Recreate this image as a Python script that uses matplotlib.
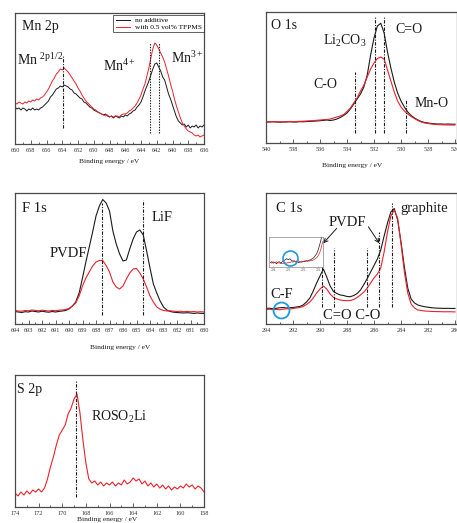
import numpy as np
import matplotlib
matplotlib.use("Agg")
import matplotlib.pyplot as plt
from matplotlib.ticker import MultipleLocator, FormatStrFormatter

W, H = 457, 523

plt.rcParams["font.family"] = ["Liberation Serif", "DejaVu Serif"]
plt.rcParams["mathtext.fontset"] = "custom"
plt.rcParams["mathtext.rm"] = "Liberation Serif"
plt.rcParams["mathtext.it"] = "Liberation Serif:italic"

RED = "#e8232b"
BLACK = "#1a1a1a"
FRAME = "#4a4a4a"
BLUE = "#1f9bd8"

# ---- Mn 2p (660 -> 636 eV, 0.25 eV step) ----
mn_energy = np.linspace(660, 636, 97)
mn_black = [37, 35, 36, 34, 36, 35, 33, 35, 34, 36, 34, 35, 34, 36, 37, 39,
            41, 43, 47, 49, 52, 55, 56, 58, 57, 59, 58, 57, 55, 54, 51, 50,
            48, 46, 45, 42, 41, 39, 37, 36, 34, 33, 32, 31, 30, 29, 30, 28,
            27, 28, 26, 28, 27, 26, 28, 27, 29, 28, 30, 31, 33, 34, 37, 39,
            42, 47, 53, 58, 63, 69, 75, 80, 81, 77, 73, 67, 64, 57, 50, 45,
            39, 33, 27, 23, 21, 19, 20, 17, 19, 16, 18, 17, 19, 16, 18, 17, 19]
mn_red = [41, 40, 42, 41, 40, 42, 41, 43, 42, 44, 43, 45, 44, 46, 47, 49,
          52, 55, 59, 63, 66, 70, 72, 75, 74, 76, 74, 72, 69, 66, 63, 60,
          56, 53, 49, 46, 43, 41, 39, 37, 35, 34, 32, 31, 30, 29, 28, 29,
          27, 28, 27, 28, 28, 27, 29, 30, 30, 31, 33, 34, 36, 38, 41, 45,
          49, 55, 60, 68, 76, 86, 95, 101, 99, 95, 91, 87, 82, 75, 68, 60,
          53, 45, 38, 32, 26, 21, 18, 15, 13, 12, 11, 9, 8, 9, 7, 8, 9]
mn_peaks = [653.9, 642.9, 641.75]

# ---- O 1s (540 -> 526 eV) ----
o_energy = np.linspace(540, 526, 57)
o_black = [21, 21, 21.2, 21, 20.8, 21, 21, 21.2, 21, 21, 21.3, 21.2, 21.5,
           21.6, 21.8, 22, 22.3, 22.6, 23, 22.5, 23, 24, 25.5, 27.5, 30, 34,
           39, 44, 49, 56, 68, 88, 105, 117, 119.7, 110, 91, 75, 61, 50, 42,
           36, 31, 27.5, 25, 23, 21.5, 20.5, 20, 19.5, 19.2, 19, 19, 18.8,
           19, 18.8, 18.8]
o_red = [21.3, 21.2, 21.4, 21.3, 21.1, 21.3, 21.4, 21.5, 21.4, 21.5, 21.7,
         21.8, 22, 22.2, 22.4, 22.7, 23, 23.3, 23.5, 24, 25, 26, 27, 28.5,
         31.5, 35, 40, 45, 52, 58, 66, 74, 80, 84.5, 86, 84, 73, 62, 51, 42,
         36, 32, 29, 26.5, 24.5, 22.5, 21, 20, 19.5, 19, 18.6, 18.4, 18.2,
         18.1, 18, 18, 18]
o_peaks = [533.4, 531.93, 531.26, 529.63]

# ---- F 1s (694 -> 680 eV) ----
f_energy = np.linspace(694, 680, 57)
f_black = [12.5, 12, 11.5, 12.3, 12, 13, 12.5, 12, 12.8, 12.2, 11.8, 12.5,
           12, 12.6, 13, 13.5, 15, 18, 22, 31, 46, 62, 77, 92, 108, 118,
           124.5, 121, 113, 93, 80, 70, 63, 64, 75, 85, 92, 94, 89, 73, 56,
           40, 31, 23, 17, 14, 12.5, 11.8, 11.5, 11.2, 11, 11.3, 11, 10.6,
           11, 10.7, 10.5]
f_red = [13.5, 13, 12.8, 13.5, 13.2, 14, 13.6, 13.2, 13.8, 13.4, 13, 13.6,
         13.3, 13.8, 14, 14.5, 15.5, 18, 21, 28, 38, 46, 52, 58, 62, 63.5,
         63.5, 58.5, 52, 42, 37, 35, 38, 45, 51, 55, 55.5, 51, 45, 37, 28,
         22, 17, 14.8, 13.5, 13, 13.2, 12.8, 12.5, 12.8, 12.3, 12.6, 12.2,
         12.5, 12, 12.3, 12]
f_peaks = [687.56, 684.54]

# ---- C 1s (294 -> 280 eV) ----
c_energy = np.linspace(294, 280, 57)
c_black = [15.5, 15.8, 15.3, 15.7, 16.2, 16.5, 16, 16.3, 16.5, 17, 17.5, 19,
           22, 26, 33, 41, 48, 55, 47, 38, 32.5, 30.5, 29, 28.5, 27.5, 27.3,
           28.5, 30.5, 34, 39.5, 45.5, 52, 58.5, 65, 74, 88, 101, 112, 115.5,
           104, 82, 57, 36, 25, 21, 19, 18, 17.3, 16.8, 16.3, 16, 15.8, 15.7,
           15.6, 15.7, 15.5, 15.6]
c_red = [14.5, 14.8, 14.3, 14.6, 14.2, 14.8, 15.2, 15, 15.5, 16, 16.5, 17.5,
         19.5, 22, 26, 31, 35, 38, 35, 30, 26.5, 25, 24, 23.5, 23.3, 23.5,
         24.5, 26.5, 29, 32, 36, 41, 46, 50, 56, 72, 92, 108, 114, 106, 80,
         52, 31, 20, 16, 14, 13.5, 13, 12.8, 12.6, 12.5, 12.4, 12.3, 12.2,
         12.3, 12.2, 12.1]
c_peaks = [289.83, 288.96, 286.49, 285.6, 284.64]
cf_energy = 292.9

# C 1s inset, C-F region (294.2 -> 290.7 eV)
ci_energy = np.linspace(294.2, 290.7, 36)
ci_black = [4, 5, 3.5, 4.5, 3, 4.5, 5, 3.5, 5, 6, 7, 8, 7, 8, 6.5, 5.5, 6,
            4.5, 5.5, 4, 5, 4.5, 5.5, 5, 6, 5.5, 6.5, 7, 8, 9, 11, 13, 17,
            22, 28, 34]
ci_red = [4.5, 3.5, 5, 4, 5, 3.5, 4, 3, 3.5, 3, 4, 3.5, 4.5, 4, 5, 4.5, 5.5,
          5, 6, 5.5, 4.5, 5.5, 5, 6, 5.5, 6, 5.5, 6.5, 6, 7, 8, 9, 11, 14,
          19, 25]

# ---- S 2p (174 -> 158 eV) ----
s_energy = np.linspace(174, 158, 65)
s_red = [14, 11, 15, 12, 16, 13, 17, 15, 18, 15, 19, 28, 40, 50, 62, 72, 77,
         82, 93, 99, 108, 113, 94, 67, 44, 28, 24, 26, 22, 25, 21, 24, 22,
         25, 21, 24, 22, 27, 23, 25, 29, 26, 28, 23, 26, 21, 24, 20, 23, 19,
         22, 18, 21, 17, 20, 18, 21, 19, 23, 20, 22, 18, 21, 19, 15]
s_peak = 168.84

for e, ys in [(mn_energy, mn_black), (mn_energy, mn_red), (o_energy, o_black),
              (o_energy, o_red), (f_energy, f_black), (f_energy, f_red),
              (c_energy, c_black), (c_energy, c_red), (ci_energy, ci_black),
              (ci_energy, ci_red), (s_energy, s_red)]:
    assert len(e) == len(ys), (len(e), len(ys))

fig = plt.figure(figsize=(W / 100, H / 100), dpi=100)


def px_axes(left, top, right, bottom):
    return fig.add_axes([left / W, 1 - bottom / H, (right - left) / W,
                         (bottom - top) / H])


def label(x, y, s, size=10, **kw):
    fig.text(x / W, 1 - y / H, s, fontsize=size, va="baseline", color=BLACK, **kw)


def style(ax, xlim, height, major, minor):
    ax.set_xlim(*xlim)
    ax.set_ylim(0, height)
    ax.xaxis.set_major_locator(MultipleLocator(major))
    ax.xaxis.set_minor_locator(MultipleLocator(minor))
    ax.xaxis.set_major_formatter(FormatStrFormatter("%d"))
    ax.set_yticks([])
    ax.tick_params(axis="x", which="both", direction="in", top=False,
                   labelsize=4.5, pad=2.8, color=FRAME, labelcolor="#333333",
                   width=0.6)
    ax.tick_params(axis="x", which="major", length=3)
    ax.tick_params(axis="x", which="minor", length=1.5)
    for sp in ax.spines.values():
        sp.set_color(FRAME)
        sp.set_linewidth(0.9)


def vline(ax, x, lo, hi, dotted=False):
    ls = (0, (1.2, 1.2)) if dotted else (0, (3, 1.3, 1, 1.3))
    ax.plot([x, x], [lo, hi], color=BLACK, lw=0.8, ls=ls)


# Mn 2p
ax1 = px_axes(15, 13, 204, 144)
style(ax1, (660, 636), 131, 2, 1)
ax1.plot(mn_energy, mn_black, color=BLACK, lw=0.7, label="no additive")
ax1.plot(mn_energy, mn_red, color=RED, lw=0.7, label="with 0.5 vol% TFPMS")
vline(ax1, mn_peaks[0], 16, 89)
vline(ax1, mn_peaks[1], 11, 101, dotted=True)
vline(ax1, mn_peaks[2], 11, 101, dotted=True)
ax1.legend(loc="upper right", bbox_to_anchor=(1.0, 0.985), borderaxespad=0,
           fontsize=5.3, frameon=True, fancybox=False, edgecolor=BLACK,
           handlelength=2.0, handletextpad=0.6, borderpad=0.3,
           labelspacing=0.1).get_frame().set_linewidth(0.6)
label(21.7, 30, "Mn 2p")
label(16.7, 65, r"Mn $^{\mathrm{2p1/2}}$")
label(103.3, 70.7, r"Mn$^{\mathrm{4+}}$")
label(170.7, 63.3, r"Mn$^{\mathrm{3+}}$")
label(109.5, 163, "Binding energy / eV", size=5.3, ha="center")

# O 1s
ax2 = px_axes(266, 12, 457, 143)
style(ax2, (540, 540 - 191 / 13.5), 131, 2, 1)
ax2.plot(o_energy, o_black, color=BLACK, lw=0.8)
ax2.plot(o_energy, o_red, color=RED, lw=0.8)
vline(ax2, o_peaks[0], 10, 71)
vline(ax2, o_peaks[1], 10, 126)
vline(ax2, o_peaks[2], 10, 126)
vline(ax2, o_peaks[3], 10, 43)
label(270.7, 29.3, "O 1s")
label(322.7, 45, r"Li$_{\mathrm{2}}$CO$_{\mathrm{3}}$")
label(395.7, 33.3, "C=O")
label(313.3, 88.3, "C-O")
label(415, 106.7, "Mn-O")
label(352, 167, "Binding energy / eV", size=5.3, ha="center")

# F 1s
ax3 = px_axes(15, 193, 204, 324)
style(ax3, (694, 680), 131, 1, 0.5)
ax3.plot(f_energy, f_black, color=BLACK, lw=0.8)
ax3.plot(f_energy, f_red, color=RED, lw=0.8)
vline(ax3, f_peaks[0], 9, 121)
vline(ax3, f_peaks[1], 9, 124)
label(22, 211.7, "F 1s", size=10.5)
label(151.7, 221, "LiF", size=10.5)
label(50, 256.7, "PVDF", size=10.5)
label(120, 348.5, "Binding energy / eV", size=5.3, ha="center")

# C 1s
ax4 = px_axes(266, 193, 457, 324)
style(ax4, (294, 294 - 191 / 13.5), 131, 2, 1)
ax4.plot(c_energy, c_black, color=BLACK, lw=0.8)
ax4.plot(c_energy, c_red, color=RED, lw=0.8)
for e, hi in zip(c_peaks, [79, 76, 76, 92, 121]):
    vline(ax4, e, 17, hi)
ax4.plot(cf_energy, 14, "o", ms=11.5, mfc="none", mec=BLUE, mew=1.3)
arrow = dict(arrowstyle="->", lw=0.7, color=BLACK, shrinkA=0, shrinkB=0,
             mutation_scale=7)
ax4.annotate("", xy=(289.76, 80.7), xytext=(288.76, 95.7), arrowprops=arrow)
ax4.annotate("", xy=(285.61, 80.7), xytext=(286.42, 97.3), arrowprops=arrow)
label(275.7, 211.7, "C 1s", size=10.5)
label(400.7, 211.7, "graphite", size=10.5)
label(329, 225.7, "PVDF", size=10.5)
label(270.7, 298.3, "C-F", size=10.5)
label(323.3, 319.3, "C=O C-O", size=10.5)

axi = px_axes(269.3, 237, 322.7, 266.7)
axi.set_xlim(294.27, 290.7)
axi.set_ylim(0, 29.7)
axi.plot(ci_energy, ci_black, color=BLACK, lw=0.5)
axi.plot(ci_energy, ci_red, color=RED, lw=0.5)
axi.plot(cf_energy, 8.7, "o", ms=10.8, mfc="none", mec=BLUE, mew=1.2,
         clip_on=False)
axi.set_xticks([294, 293, 292, 291])
axi.set_yticks([])
axi.tick_params(axis="x", direction="in", length=1, width=0.4, labelsize=2.5,
                pad=0.8, color="#777777", labelcolor="#555555")
for sp in axi.spines.values():
    sp.set_color("#888888")
    sp.set_linewidth(0.5)

# S 2p
ax5 = px_axes(15, 375, 204, 507)
style(ax5, (174, 158), 132, 2, 1)
ax5.plot(s_energy, s_red, color=RED, lw=0.8)
vline(ax5, s_peak, 10, 127)
label(17.3, 393.3, "S 2p")
label(90.7, 420.7, r"ROSO$_{\mathrm{2}}$Li")
label(106.7, 520.5, "Binding energy / eV", size=5.3, ha="center")

fig.savefig("out.png", dpi=100)
